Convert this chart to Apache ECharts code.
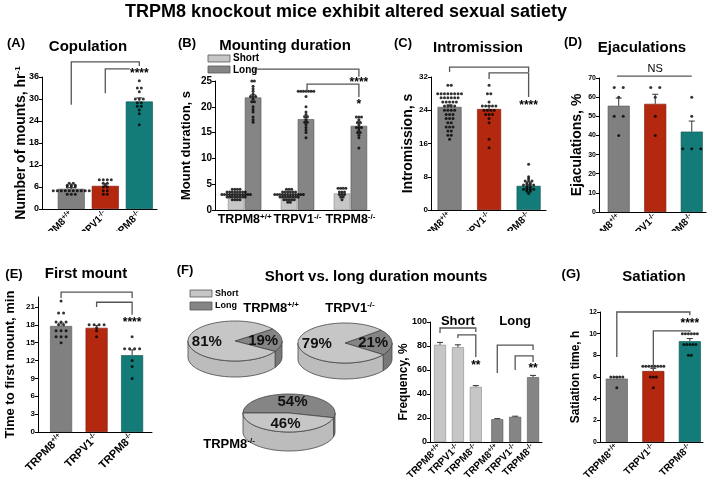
<!DOCTYPE html>
<html><head><meta charset="utf-8">
<script src="https://cdn.jsdelivr.net/npm/echarts@6/dist/echarts.min.js"></script>
<style>html,body{margin:0;padding:0;background:#fff}#c{width:709px;height:486px}</style>
</head><body><div id="c"></div>
<script>
const FONT = '"Liberation Sans", Arial, Helvetica, sans-serif';
const groupBase = ['TRPM8', 'TRPV1', 'TRPM8'];
const groupSup = ['+/+', '-/-', '-/-'];

// (A) Copulation
const copMean = [5.5, 6.3, 29.3];
const copSem = [0.3, 0.6, 1.0];
const copDots = [
  [7, 7, 6.5, 6.5, 6.5, 6, 6, 6, 5, 5, 5, 5, 5, 5, 5, 5, 5, 5, 4, 4, 4],
  [8, 8, 8, 8, 7, 7, 6.5, 6, 6, 5, 5, 4, 4],
  [35, 33, 33, 32, 30, 30, 30, 29, 29, 28, 28, 27, 26, 23]
];
const copTicks = [0, 6, 12, 18, 24, 30, 36];

// (B) Mounting duration
const mountShortMean = [3.0, 2.9, 3.2];
const mountLongMean = [21.8, 17.6, 16.3];
const mountShortSem = [0.1, 0.1, 0.2];
const mountLongSem = [0.5, 0.6, 0.5];
const mountShortDots = [
  [4, 4, 4, 4, 3.5, 3.5, 3.5, 3.5, 3.5, 3.5, 3.5, 3.5, 3, 3, 3, 3, 3, 3, 3, 3, 3, 3, 3, 3, 2.5, 2.5, 2.5, 2.5, 2.5, 2.5, 2.5, 2.5, 2, 2, 2, 2],
  [4, 4, 4, 3.5, 3.5, 3.5, 3.5, 3.5, 3.5, 3, 3, 3, 3, 3, 3, 3, 3, 3, 3, 3, 3, 2.5, 2.5, 2.5, 2.5, 2.5, 2.5, 2.5, 2.5, 2, 2, 2, 2, 2, 1.5, 1.5],
  [4.2, 4.2, 4.2, 4.2, 3.5, 3.5, 3.5, 3, 3, 3, 2.5, 2.5, 2]
];
const mountLongDots = [
  [25, 25, 24, 23.5, 23, 22.5, 22, 22, 22, 21.5, 21, 21, 20, 19.5, 19, 18, 17.5, 17],
  [23, 23, 23, 23, 23, 23, 23, 22, 20, 19, 18.5, 18, 18, 17.5, 17, 17, 16.5, 16, 15.5, 15, 14],
  [18, 18, 18, 17.5, 17, 17, 16.5, 16, 16, 16, 15.5, 15, 15, 14.5, 14, 12]
];
const mountTicks = [0, 5, 10, 15, 20, 25];

// (C) Intromission
const introMean = [24.8, 24.3, 5.8];
const introSem = [0.5, 0.7, 0.4];
const introDots = [
  [30, 30, 28, 28, 28, 28, 28, 28, 28, 28, 27, 27, 27, 27, 27, 27, 26, 26, 26, 26, 26, 25, 25, 25, 25, 24, 24, 24, 24, 23, 23, 23, 22, 22, 22, 21, 21, 20, 20, 20, 19, 19, 18, 18, 17],
  [30, 28, 28, 26, 25, 25, 25, 25, 25, 24, 24, 24, 24, 23, 23, 23, 22, 21, 17, 15],
  [11, 8, 7.5, 7, 7, 7, 6.5, 6.5, 6, 6, 6, 6, 5.5, 5.5, 5, 5, 5, 5, 4.5, 4.5, 4]
];
const introTicks = [0, 8, 16, 24, 32];

// (D) Ejaculations
const ejacMean = [55.5, 56.5, 42];
const ejacSem = [4, 5, 5.5];
const ejacDots = [
  [65, 65, 60, 50, 50, 40],
  [65, 65, 60, 50, 40],
  [60, 50, 33, 33, 33]
];
const ejacTicks = [0, 10, 20, 30, 40, 50, 60, 70];

// (E) First mount
const firstMean = [17.8, 17.5, 12.9];
const firstSem = [0.5, 0.4, 0.9];
const firstDots = [
  [22, 20, 20, 18.5, 18.5, 18.5, 18, 18, 17, 17, 17, 16, 16, 16, 15],
  [18, 18, 18, 18, 17.5, 17, 16],
  [16, 14, 14, 14, 14, 12, 11, 9]
];
const firstTicks = [0, 3, 6, 9, 12, 15, 18, 21];

// (F) Short vs long duration mounts
const pieShort = [81, 79, 46];
const pieLong = [19, 21, 54];
const freqMean = [81, 79, 46, 19, 21, 54];
const freqSem = [2, 2, 1, 0.5, 0.5, 1.5];
const freqTicks = [0, 20, 40, 60, 80, 100];

// (G) Satiation
const satMean = [5.85, 6.55, 9.3];
const satSem = [0.15, 0.25, 0.25];
const satDots = [
  [6, 6, 6, 6, 6, 5],
  [7, 7, 7, 7, 7, 7, 7, 7, 6, 6, 6, 5],
  [10, 10, 10, 10, 10, 10, 9, 9, 9, 9, 9, 8, 8]
];
const satTicks = [0, 2, 4, 6, 8, 10, 12];

// ---------- styles ----------
const C_GRAY = '#808080', C_RED = '#b3280e', C_TEAL = '#137c79';
const C_SHORT = '#c6c6c6', C_LONG = '#858585';
const BORDER = { '#808080': '#555', '#b3280e': '#7a1a08', '#137c79': '#0b514f', '#c6c6c6': '#8a8a8a', '#858585': '#555' };
const tri = [C_GRAY, C_RED, C_TEAL];

const grids = [], xAxis = [], yAxis = [], series = [];

function swarm(groupVals, centers, bin, stepUnits) {
  const out = [];
  groupVals.forEach((vals, g) => {
    const bins = {};
    vals.forEach(v => { const k = Math.round(v / bin); (bins[k] = bins[k] || []).push(v); });
    Object.keys(bins).forEach(k => {
      const arr = bins[k], n = arr.length;
      arr.forEach((v, j) => out.push([centers[g] + (j - (n - 1) / 2) * stepUnits, v]));
    });
  });
  return out;
}

function panel(p) {
  const gi = grids.length;
  const s = (p.R - p.L) / (p.xmax - p.xmin);
  grids.push({ left: p.L, top: p.T, width: p.R - p.L, height: p.H, outerBoundsMode: 'none', containLabel: false });
  const showX = p.labelIdx.some(v => v != null);
  xAxis.push({
    type: 'value', gridIndex: gi, min: p.xmin, max: p.xmax,
    splitLine: { show: false }, axisTick: { show: false },
    axisLine: { show: true, onZero: false, lineStyle: { color: '#000', width: 1 } },
    axisLabel: {
      show: showX, customValues: p.pos.filter((v, i) => p.labelIdx[i] != null), color: '#000',
      rotate: p.rot, margin: p.xMargin || 4,
      formatter: v => {
        const i = p.pos.findIndex(q => Math.abs(q - v) < 1e-6);
        const g = p.labelIdx[i];
        if (g == null) return '';
        return '{b|' + groupBase[g] + '}{s|' + groupSup[g] + '}';
      },
      rich: {
        b: { fontSize: p.xFont, fontWeight: 'bold', fontFamily: FONT, color: '#000', lineHeight: p.xFont + 2 },
        s: { fontSize: Math.round(p.xFont * 0.65), fontWeight: 'bold', fontFamily: FONT, color: '#000', lineHeight: 6, verticalAlign: 'top' }
      }
    }
  });
  yAxis.push({
    type: 'value', gridIndex: gi, min: 0, max: p.ymax,
    splitLine: { show: false },
    axisLine: { show: true, onZero: false, lineStyle: { color: '#000', width: 1 } },
    axisTick: { show: true, length: 3, customValues: p.yTicks, lineStyle: { color: '#000' } },
    axisLabel: { customValues: p.yTicks, fontSize: p.yFont, fontWeight: 'bold', color: '#000', margin: 3, fontFamily: FONT },
    name: p.yName, nameLocation: 'middle', nameGap: p.nameGap, nameRotate: 90, nameMoveOverlap: false,
    nameTextStyle: {
      fontSize: p.nameFont, fontWeight: 'bold', color: '#000', fontFamily: FONT,
      rich: {
        n: { fontSize: p.nameFont, fontWeight: 'bold', color: '#000', fontFamily: FONT },
        s: { fontSize: Math.round(p.nameFont * 0.6), fontWeight: 'bold', color: '#000', fontFamily: FONT, verticalAlign: 'top', lineHeight: 6 }
      }
    }
  });
  const ax = { xAxisIndex: gi, yAxisIndex: gi };
  series.push(Object.assign({
    type: 'bar', barWidth: p.bw, silent: true, z: 2,
    data: p.means.map((m, i) => ({ value: [p.pos[i], m], itemStyle: { color: p.colors[i], borderColor: BORDER[p.colors[i]], borderWidth: 0.6 } }))
  }, ax));
  if (p.dots) {
    series.push(Object.assign({
      type: 'scatter', symbol: 'circle', symbolSize: 3, silent: true, z: 3,
      itemStyle: { color: '#000' },
      data: swarm(p.dots, p.dotPos || p.pos, p.bin, p.step / s)
    }, ax));
  }
  series.push(Object.assign({
    type: 'custom', silent: true, z: 4,
    data: p.pos.map((x, i) => [x, p.means[i], p.sem[i]]),
    renderItem: (params, api) => {
      const x = api.value(0), m = api.value(1), e = api.value(2);
      const a = api.coord([x, m]), b = api.coord([x, m + e]);
      return { type: 'group', children: [
        { type: 'line', shape: { x1: a[0], y1: a[1], x2: b[0], y2: b[1] }, style: { stroke: '#333', lineWidth: 1 } },
        { type: 'line', shape: { x1: b[0] - 3, y1: b[1], x2: b[0] + 3, y2: b[1] }, style: { stroke: '#333', lineWidth: 1 } }
      ] };
    }
  }, ax));
  if (p.brackets) {
    series.push(Object.assign({
      type: 'custom', silent: true, z: 5,
      data: p.brackets.map(b => [b[0], b[3]]),
      renderItem: (params, api) => {
        const b = p.brackets[params.dataIndex];
        const pts = [];
        if (b[2] != null) pts.push(api.coord([b[0], b[2]]));
        pts.push(api.coord([b[0], b[3]]));
        pts.push(api.coord([b[1], b[3]]));
        if (b[4] != null) pts.push(api.coord([b[1], b[4]]));
        return { type: 'polyline', shape: { points: pts }, style: { stroke: '#555', lineWidth: 1.3, fill: null } };
      }
    }, ax));
  }
  if (p.notes) {
    series.push(Object.assign({
      type: 'custom', silent: true, z: 6,
      data: p.notes.map(n => [n[0], n[1]]),
      renderItem: (params, api) => {
        const n = p.notes[params.dataIndex];
        const c = api.coord([n[0], n[1]]);
        const star = /^\*+$/.test(n[2]);
        return { type: 'text', x: c[0], y: c[1] + (star ? 3 : 0),
          style: { text: n[2], font: (n[3] || 'bold 12px') + ' ' + FONT, fill: '#000', align: 'center', verticalAlign: 'middle' } };
      }
    }, ax));
  }
}

const P3 = [0, 1, 2];
const L3 = [0, 1, 2];

// A
panel({ L: 42, R: 157, T: 77, H: 132, xmin: -0.86, xmax: 2.52, ymax: 36, yTicks: copTicks,
  pos: P3, labelIdx: L3, rot: 45, xFont: 10, yFont: 9, bw: 27,
  yName: '{n|Number of mounts, hr}{s|-1}', nameGap: 14, nameFont: 14,
  means: copMean, sem: copSem, colors: tri, dots: copDots, bin: 0.5, step: 4,
  brackets: [[0, 2, 28.4, 40.1, 39], [1, 1.72, 31.6, 38.2, null]],
  notes: [[2, 37.6, '****']] });

// B
const bPos = [-0.16, 0.16, 0.84, 1.16, 1.84, 2.16];
const bXmin = -0.56, bXmax = 2.37;
panel({ L: 215, R: 370, T: 81, H: 129, xmin: bXmin, xmax: bXmax, ymax: 25, yTicks: mountTicks,
  pos: bPos, labelIdx: [null, null, null, null, null, null], rot: 0, xFont: 12, yFont: 10, bw: 16.5,
  yName: 'Mount duration, s', nameGap: 22, nameFont: 13,
  means: [mountShortMean[0], mountLongMean[0], mountShortMean[1], mountLongMean[1], mountShortMean[2], mountLongMean[2]],
  sem: [mountShortSem[0], mountLongSem[0], mountShortSem[1], mountLongSem[1], mountShortSem[2], mountLongSem[2]],
  colors: [C_SHORT, C_LONG, C_SHORT, C_LONG, C_SHORT, C_LONG],
  dots: [mountShortDots[0], mountLongDots[0], mountShortDots[1], mountLongDots[1], mountShortDots[2], mountLongDots[2]],
  bin: 0.5, step: 2.6,
  brackets: [[0.2, 2.16, 26.5, 27.3, 25.8], [1.18, 2.16, 22.9, 24.4, 21.9]],
  notes: [[2.16, 25.2, '****'], [2.16, 21.0, '*']] });

// C
panel({ L: 431, R: 546, T: 77, H: 133, xmin: -0.47, xmax: 2.44, ymax: 32, yTicks: introTicks,
  pos: P3, labelIdx: L3, rot: 45, xFont: 10, yFont: 8, bw: 24,
  yName: 'Intromission, s', nameGap: 16, nameFont: 14,
  means: introMean, sem: introSem, colors: tri, dots: introDots, bin: 0.5, step: 3.4,
  brackets: [[0, 2, 33.2, 34.4, 33.2], [1, 2, 31.5, 33, 27.2]],
  notes: [[2, 25.8, '****']] });

// D
panel({ L: 599, R: 706, T: 78, H: 134, xmin: -0.54, xmax: 2.39, ymax: 70, yTicks: ejacTicks,
  pos: P3, labelIdx: L3, rot: 45, xFont: 10, yFont: 7, bw: 22,
  yName: 'Ejaculations, %', nameGap: 15, nameFont: 14,
  means: ejacMean, sem: ejacSem, colors: tri, dots: ejacDots, bin: 1, step: 9,
  brackets: [[-0.05, 2, null, 71, null]],
  notes: [[1, 74.8, 'NS', '11px']] });

// E
panel({ L: 38, R: 152, T: 297, H: 135, xmin: -0.65, xmax: 2.56, ymax: 22.68, yTicks: firstTicks,
  pos: P3, labelIdx: L3, rot: 45, xFont: 11, yFont: 8, bw: 22,
  yName: 'Time to first mount, min', nameGap: 21, nameFont: 13,
  means: firstMean, sem: firstSem, colors: tri, dots: firstDots, bin: 0.4, step: 5,
  brackets: [[0, 2, 22.5, 23.5, 22.5], [1, 2, 21, 21.8, 19.7]],
  notes: [[2, 18.8, '****']] });

// F bars
const fPos = [0, 1, 2, 3.2, 4.2, 5.2];
panel({ L: 430, R: 542, T: 322, H: 120, xmin: -0.56, xmax: 5.7, ymax: 100, yTicks: freqTicks,
  pos: fPos, labelIdx: [0, 1, 2, 0, 1, 2], rot: 45, xFont: 10, yFont: 9, bw: 12,
  yName: 'Frequency, %', nameGap: 20, nameFont: 12,
  means: freqMean, sem: freqSem, colors: [C_SHORT, C_SHORT, C_SHORT, C_LONG, C_LONG, C_LONG],
  brackets: [[0, 2, 90.8, 95, 91.7], [1, 2, 86.7, 89.2, 70.8], [3.2, 5.2, 57.5, 80.8, 76.7], [4.2, 5.2, 60, 71.7, 66.7]],
  notes: [[2, 65.8, '**'], [5.2, 64, '**'], [1, 100.5, 'Short', 'bold 13px'], [4.2, 100.5, 'Long', 'bold 13px']] });

// G
panel({ L: 600, R: 703, T: 312, H: 130, xmin: -0.46, xmax: 2.36, ymax: 12, yTicks: satTicks,
  pos: P3, labelIdx: L3, rot: 45, xFont: 10, yFont: 7, bw: 22,
  yName: 'Satiation time, h', nameGap: 18, nameFont: 12,
  means: satMean, sem: satSem, colors: tri, dots: satDots, bin: 0.3, step: 3,
  brackets: [[0, 2, 7.85, 12, 11.7], [1, 2, 6.65, 10.25, 10.15]],
  notes: [[2, 11.2, '****']] });

// B category labels, centred between the paired bars (extra axis on grid 1)
xAxis.push({
  type: 'value', gridIndex: 1, min: bXmin, max: bXmax, position: 'bottom',
  axisLine: { show: false }, axisTick: { show: false }, splitLine: { show: false },
  axisLabel: { customValues: [0, 1, 2], margin: 3, color: '#000',
    formatter: v => '{b|' + groupBase[Math.round(v)] + '}{s|' + groupSup[Math.round(v)] + '}',
    rich: { b: { fontSize: 12.5, fontWeight: 'bold', fontFamily: FONT, color: '#000', lineHeight: 14 },
            s: { fontSize: 8, fontWeight: 'bold', fontFamily: FONT, color: '#000', lineHeight: 6, verticalAlign: 'top' } } }
});
series.push({ type: 'scatter', xAxisIndex: xAxis.length - 1, yAxisIndex: 1, data: [], silent: true });

// F pies (3D look)
const pieLayout = [
  { cx: 235, cy: 341, rx: 47, ry: 20, h: 16, longStart: -37 },
  { cx: 345, cy: 343, rx: 47, ry: 20, h: 16, longStart: -40 },
  { cx: 289, cy: 413, rx: 46, ry: 19, h: 19, longStart: 180 }
];
function pieRender(params, api) {
  const L = pieLayout[params.dataIndex];
  const sv = api.value(0), lv = api.value(1);
  const span = lv / (sv + lv) * 360;
  const slices = [
    { a: L.longStart, b: L.longStart + span, fill: C_LONG, side: '#787878', label: lv + '%' },
    { a: L.longStart + span, b: L.longStart + 360, fill: C_SHORT, side: '#bcbcbc', label: sv + '%' }
  ];
  const R = Math.PI / 180;
  const P = (d, dy) => [L.cx + L.rx * Math.cos(d * R), L.cy + dy + L.ry * Math.sin(d * R)];
  const arc = (a, b, dy) => { const n = Math.max(2, Math.ceil(Math.abs(b - a) / 3)); const o = []; for (let i = 0; i <= n; i++) o.push(P(a + (b - a) * i / n, dy)); return o; };
  const ch = [];
  slices.forEach(s => {
    [-360, 0, 360].forEach(k => {
      const a = Math.max(s.a, k), b = Math.min(s.b, k + 180);
      if (b > a) ch.push({ type: 'polygon', shape: { points: arc(a, b, 0).concat(arc(b, a, L.h)) }, style: { fill: s.side, stroke: '#444', lineWidth: 0.8 } });
    });
  });
  slices.forEach(s => {
    ch.push({ type: 'polygon', shape: { points: [[L.cx, L.cy]].concat(arc(s.a, s.b, 0)) }, style: { fill: s.fill, stroke: '#444', lineWidth: 0.8 } });
  });
  slices.forEach(s => {
    const m = (s.a + s.b) / 2;
    ch.push({ type: 'text', x: L.cx + 0.6 * L.rx * Math.cos(m * R), y: L.cy + 0.6 * L.ry * Math.sin(m * R),
      style: { text: s.label, font: 'bold 15px ' + FONT, fill: '#111', align: 'center', verticalAlign: 'middle' } });
  });
  return { type: 'group', children: ch };
}
series.push({ type: 'custom', coordinateSystem: 'none', silent: true, z: 2,
  data: pieShort.map((v, i) => [v, pieLong[i]]), renderItem: pieRender });

// ---------- text graphics ----------
const T = (x, y, text, font, align) => ({ type: 'text', x, y, z: 50,
  style: { text, font: font + ' ' + FONT, fill: '#000', align: align || 'center', verticalAlign: 'middle' } });
const supText = (x, y, base, sup, size) => ({ type: 'text', x, y, z: 50,
  style: { text: '{b|' + base + '}{s|' + sup + '}', align: 'center', verticalAlign: 'middle',
    rich: { b: { fontSize: size, fontWeight: 'bold', fontFamily: FONT, fill: '#000', lineHeight: size + 2 },
            s: { fontSize: Math.round(size * 0.62), fontWeight: 'bold', fontFamily: FONT, fill: '#000', lineHeight: 6, verticalAlign: 'top' } } } });
const legendBox = (x, y, w, h, fill) => ({ type: 'rect', z: 50, shape: { x, y, width: w, height: h }, style: { fill, stroke: '#555', lineWidth: 0.8 } });
const graphics = [
  { type: 'rect', z: 40, shape: { x: 0, y: 231, width: 709, height: 30 }, style: { fill: '#fff' } },
  T(346, 12, 'TRPM8 knockout mice exhibit altered sexual satiety', 'bold 18px'),
  T(16, 43, '(A)', 'bold 13px'), T(88, 47, 'Copulation', 'bold 15px'),
  T(187, 43, '(B)', 'bold 13px'), T(285, 46, 'Mounting duration', 'bold 15px'),
  T(403, 43, '(C)', 'bold 13px'), T(478, 48, 'Intromission', 'bold 15px'),
  T(573, 42, '(D)', 'bold 13px'), T(642, 48, 'Ejaculations', 'bold 15px'),
  T(14, 274, '(E)', 'bold 13px'), T(86, 274, 'First mount', 'bold 15px'),
  T(185, 270, '(F)', 'bold 13px'), T(376, 277, 'Short vs. long duration mounts', 'bold 15px'),
  T(571, 274, '(G)', 'bold 13px'), T(654, 277, 'Satiation', 'bold 15px'),
  legendBox(208, 55, 22, 7, C_SHORT), T(233, 58.5, 'Short', 'bold 10px', 'left'),
  legendBox(208, 66, 22, 7, C_LONG), T(233, 70, 'Long', 'bold 10px', 'left'),
  legendBox(190, 290, 22, 7, C_SHORT), T(215, 293.5, 'Short', 'bold 9px', 'left'),
  legendBox(190, 302, 22, 8, C_LONG), T(215, 306, 'Long', 'bold 9px', 'left'),
  supText(271, 308, 'TRPM8', '+/+', 13), supText(350, 308, 'TRPV1', '-/-', 13), supText(229, 444, 'TRPM8', '-/-', 13)
];

const chart = echarts.init(document.getElementById('c'), null, { renderer: 'canvas' });
chart.setOption({
  animation: false,
  backgroundColor: '#fff',
  textStyle: { fontFamily: FONT },
  grid: grids, xAxis, yAxis, series, graphic: graphics
});
</script></body></html>
